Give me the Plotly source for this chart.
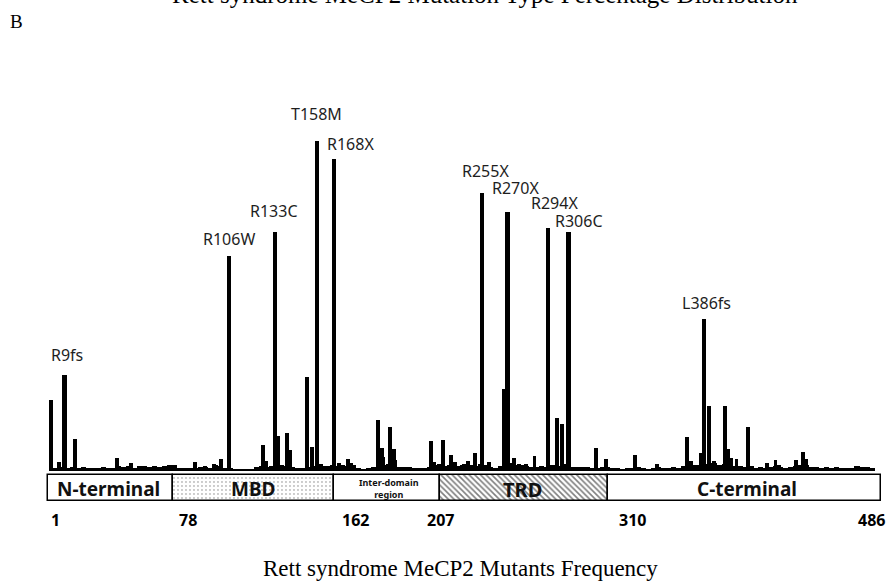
import plotly.graph_objects as go

# ---- data -------------------------------------------------------------
# labelled hot-spot mutations (residue, relative frequency)
hot_labels = ["R9fs", "R106W", "R133C", "T158M", "R168X", "R255X", "R270X", "R294X", "R306C", "L386fs"]
hot_res = [9, 106, 133, 158, 168, 255, 270, 294, 306, 386]
hot_freq = [96, 215, 239, 330, 312, 278, 259, 243, 239, 152]

# other visible mutation peaks
peak_res = [1, 6, 15, 40, 48, 86, 92, 97, 101, 126, 128, 135, 140, 142, 152, 155, 160,
            171, 176, 178, 194, 196, 197, 201, 203, 204, 225, 227, 232, 237, 239, 243,
            247, 251, 259, 268, 274, 277, 281, 286, 299, 302, 322, 328, 345, 358, 376,
            378, 384, 389, 392, 398, 400, 402, 405, 412, 414, 423, 428, 430, 440, 444, 446]
peak_freq = [71, 9, 32, 13, 8, 9, 5, 7, 12, 26, 10, 35, 38, 21, 94, 24, 7,
             8, 12, 8, 51, 23, 14, 44, 22, 11, 30, 9, 31, 16, 9, 6,
             10, 18, 9, 82, 13, 7, 7, 15, 53, 47, 23, 12, 16, 7, 34,
             10, 18, 65, 10, 65, 22, 13, 12, 44, 5, 8, 11, 6, 11, 19, 12]

# low-level background frequency (residues 2, 5, 8, ... 485)
bg_start, bg_step = 2, 3
bg_freq = [3, 3, 4, 3, 4, 3, 4, 3, 3, 3,
           4, 3, 3, 5, 4, 5, 3, 5, 5, 4,
           5, 4, 5, 6, 6, 3, 3, 3, 3, 4,
           4, 3, 6, 5, 3, 3, 2, 2, 2, 2,
           4, 5, 4, 5, 4, 6, 5, 4, 3, 3,
           4, 5, 6, 5, 5, 6, 5, 6, 5, 6,
           3, 2, 3, 4, 5, 6, 7, 5, 4, 4,
           4, 3, 3, 3, 4, 6, 7, 5, 6, 6,
           5, 7, 6, 5, 7, 6, 4, 3, 5, 6,
           8, 6, 6, 5, 4, 4, 5, 4, 6, 6,
           5, 7, 4, 4, 4, 4, 3, 3, 4, 4,
           3, 3, 2, 3, 3, 4, 3, 2, 3, 4,
           3, 3, 4, 3, 5, 4, 6, 6, 7, 8,
           8, 6, 7, 6, 5, 5, 4, 3, 3, 4,
           3, 4, 5, 4, 3, 4, 5, 6, 6, 4,
           4, 3, 4, 3, 4, 3, 3, 3, 5, 4, 4, 3]
bg_res = [bg_start + bg_step * i for i in range(len(bg_freq))]

# protein domains (drawn extent, in residues)
dom_names = ["N-terminal", "MBD", "Inter-domain<br>region", "TRD", "C-terminal"]
dom_start = [-1, 73, 168, 230, 329]
dom_end = [73, 168, 230, 329, 490]
dom_pattern = ["", ".", "", "\\", ""]

# residue number tick labels under the domain bar
tick_text = ["1", "78", "162", "207", "310", "486"]
tick_px = [55, 188, 355, 440, 632, 871]

W, H = 887, 581

fig = go.Figure()

fig.add_trace(go.Bar(x=bg_res, y=bg_freq, width=3.1,
                     marker=dict(color="black", line=dict(width=0)), hoverinfo="skip"))
fig.add_trace(go.Bar(x=peak_res, y=peak_freq, width=2.3,
                     marker=dict(color="black", line=dict(width=0))))
fig.add_trace(go.Bar(x=hot_res, y=hot_freq, width=2.5,
                     marker=dict(color="black", line=dict(width=0)),
                     text=hot_labels, hovertemplate="%{text}: %{y}<extra></extra>",
                     textposition="none"))

# domain boxes
dom_mid = [(s + e) / 2 for s, e in zip(dom_start, dom_end)]
dom_w = [e - s for s, e in zip(dom_start, dom_end)]
fig.add_trace(go.Bar(x=dom_mid, y=[26] * 5, base=[-30] * 5, width=dom_w,
                     marker=dict(color="white", line=dict(color="black", width=1.5),
                                 pattern=dict(shape=dom_pattern, fgcolor="black",
                                              bgcolor="white", size=[4, 4, 4, 4, 4],
                                              solidity=[0.3, 0.1, 0.3, 0.4, 0.3])),
                     hoverinfo="skip"))

ann = []
# labels over hot spots
shifts = {"R9fs": (3, 20), "R106W": (0, 17), "R133C": (-1, 21), "T158M": (-1, 27),
          "R168X": (16, 15), "R255X": (4, 22), "R270X": (8, 24), "R294X": (6, 25),
          "R306C": (11, 11), "L386fs": (2, 16)}
for lab, r, f in zip(hot_labels, hot_res, hot_freq):
    dx, dy = shifts[lab]
    ann.append(dict(x=r, y=f, xref="x", yref="y", text=lab, showarrow=False,
                    xshift=dx, yshift=dy, yanchor="middle",
                    font=dict(family="Noto Sans", size=16, color="#1e1e1e")))

# domain labels
dom_label_px = [(108, 489, 19, True), (253, 489, 19, True), (389, 488, 9, True),
                (522, 489, 20, True), (747, 489, 19, True)]
for name, (px, py, fs, bold) in zip(dom_names, dom_label_px):
    txt = f"<b>{name}</b>" if bold else name
    ann.append(dict(x=px / W, y=1 - py / H, xref="paper", yref="paper", text=txt,
                    showarrow=False, xanchor="center", yanchor="middle",
                    font=dict(family="Noto Sans", size=fs, color="#111111")))

for t, px in zip(tick_text, tick_px):
    ann.append(dict(x=px / W, y=1 - 520 / H, xref="paper", yref="paper", text=f"<b>{t}</b>",
                    showarrow=False, xanchor="center", yanchor="middle",
                    font=dict(family="Noto Sans", size=16, color="black")))

ann.append(dict(x=485 / W, y=1 - 10 / H, xref="paper", yref="paper",
                text="Rett syndrome MeCP2 Mutation Type Percentage Distribution",
                showarrow=False, xanchor="center", yanchor="bottom",
                font=dict(family="Liberation Serif", size=25, color="black")))
ann.append(dict(x=16 / W, y=1 - 22 / H, xref="paper", yref="paper", text="B",
                showarrow=False, xanchor="center", yanchor="middle",
                font=dict(family="Liberation Serif", size=19, color="black")))
ann.append(dict(x=460 / W, y=1 - 568 / H, xref="paper", yref="paper",
                text="Rett syndrome MeCP2 Mutants Frequency",
                showarrow=False, xanchor="center", yanchor="middle",
                font=dict(family="Liberation Serif", size=23, color="black")))

fig.update_layout(
    width=W, height=H, margin=dict(l=0, r=0, t=0, b=0),
    paper_bgcolor="white", plot_bgcolor="white", showlegend=False,
    barmode="overlay", bargap=0, annotations=ann,
    xaxis=dict(range=[-49.2 / 1.697, (W - 49.2) / 1.697], visible=False, domain=[0, 1], fixedrange=True),
    yaxis=dict(range=[471 - H, 471], visible=False, domain=[0, 1], fixedrange=True),
)

fig.write_html("out.html")
